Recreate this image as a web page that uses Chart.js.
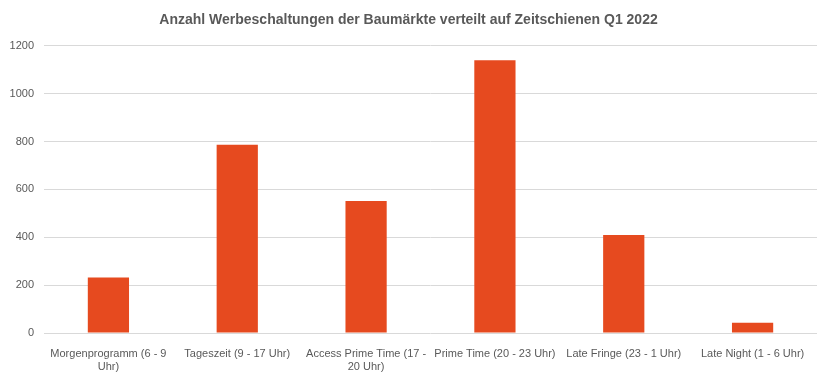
<!DOCTYPE html>
<html>
<head>
<meta charset="utf-8">
<script src="https://cdn.jsdelivr.net/npm/chart.js@4"></script>
<style>
  html, body { margin: 0; padding: 0; background: #fff; }
  #wrap { width: 832px; height: 384px; }
</style>
</head>
<body>
<div id="wrap"><canvas id="chart" width="832" height="384"></canvas></div>
<script>
// categories (split into lines like the original axis)
const categories = [
  ["Morgenprogramm (6 - 9", "Uhr)"],
  "Tageszeit (9 - 17 Uhr)",
  ["Access Prime Time (17 -", "20 Uhr)"],
  "Prime Time (20 - 23 Uhr)",
  "Late Fringe (23 - 1 Uhr)",
  "Late Night (1 - 6 Uhr)"
];
const values = [232, 787, 552, 1140, 409, 43];
const yTicks = [0, 200, 400, 600, 800, 1000, 1200];

const barColor = "#E64A1F";
const gridColor = "#d9d9d9";
const textColor = "#595959";
const fontFamily = "'Liberation Sans', 'DejaVu Sans', sans-serif";

const ctx = document.getElementById('chart');
const chart = new Chart(ctx, {
  type: 'bar',
  data: {
    labels: categories,
    datasets: [{
      label: 'Anzahl',
      data: values,
      backgroundColor: barColor,
      categoryPercentage: 1,
      barPercentage: 0.32
    }]
  },
  options: {
    responsive: false,
    animation: false,
    layout: { padding: { left: 0, right: 15, top: 0, bottom: 0 } },
    plugins: {
      legend: { display: false },
      tooltip: { enabled: false },
      title: {
        display: true,
        text: 'Anzahl Werbeschaltungen der Baumärkte verteilt auf Zeitschienen Q1 2022',
        color: textColor,
        font: { family: fontFamily, size: 14, weight: 'bold' },
        padding: { top: 12, bottom: 17 }
      }
    },
    scales: {
      x: {
        grid: { display: false },
        border: { display: false },
        ticks: {
          color: textColor,
          font: { family: fontFamily, size: 11 },
          maxRotation: 0,
          autoSkip: false,
          padding: 6
        },
        afterFit: function (scale) { scale.height = 51; }
      },
      y: {
        min: 0,
        max: 1200,
        afterBuildTicks: function (scale) {
          scale.ticks = yTicks.map(v => ({ value: v }));
        },
        grid: { color: gridColor, drawTicks: false },
        border: { display: false },
        ticks: {
          color: textColor,
          font: { family: fontFamily, size: 11 },
          padding: 10,
          callback: function (v) { return String(v); }
        },
        afterFit: function (scale) { scale.width = 44; }
      }
    }
  }
});
</script>
</body>
</html>
